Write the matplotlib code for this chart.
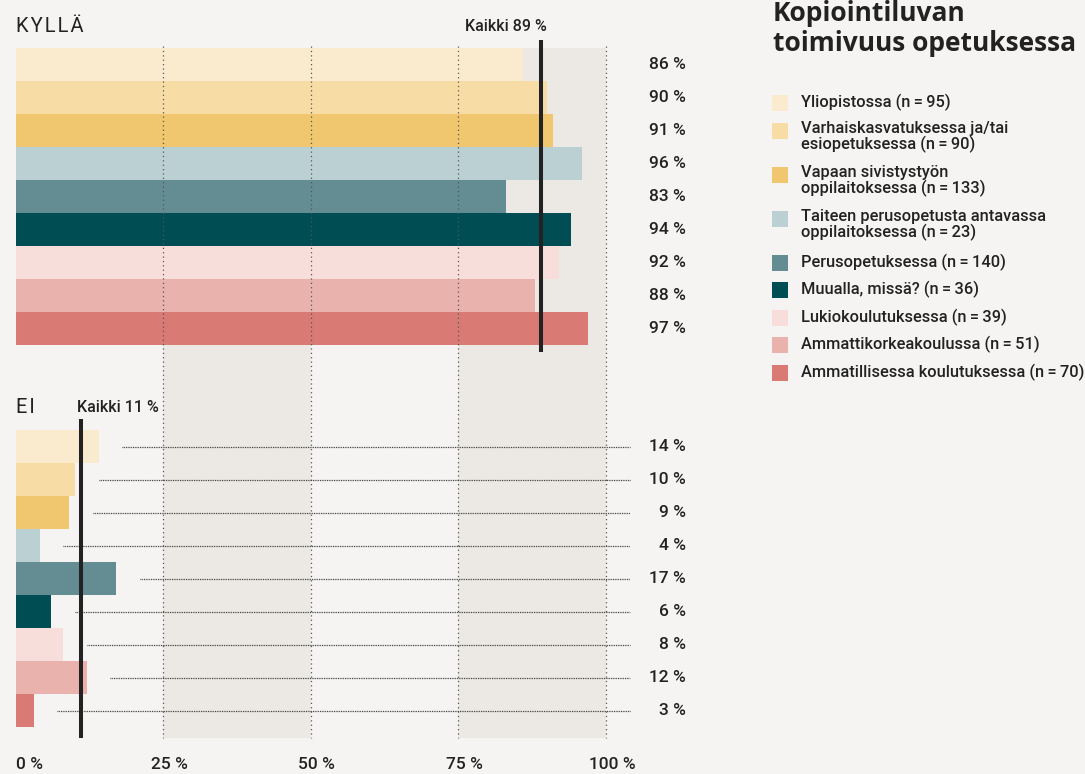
import matplotlib
matplotlib.use("Agg")
import matplotlib.pyplot as plt
from matplotlib.patches import Rectangle

# Data
categories = [
    "Yliopistossa",
    "Varhaiskasvatuksessa ja/tai\nesiopetuksessa",
    "Vapaan sivistystyön\noppilaitoksessa",
    "Taiteen perusopetusta antavassa\noppilaitoksessa",
    "Perusopetuksessa",
    "Muualla, missä?",
    "Lukiokoulutuksessa",
    "Ammattikorkeakoulussa",
    "Ammatillisessa koulutuksessa",
]
sample_sizes = [95, 90, 133, 23, 140, 36, 39, 51, 70]
yes_values = [86, 90, 91, 96, 83, 94, 92, 88, 97]
no_values = [14, 10, 9, 4, 17, 6, 8, 12, 3]
yes_all = 89
no_all = 11
tick_values = [0, 25, 50, 75, 100]

colors = ['#FAEBCF', '#F7DCA6', '#F0C66E', '#BBD0D3', '#638D93',
          '#004E54', '#F8DEDB', '#E9B2AD', '#D97B74']

BG = '#F5F4F2'
BAND = '#ECE9E4'
INK = '#222222'
FONT = ['Roboto', 'DejaVu Sans']
WEIGHT = 'medium'

W, H = 1085, 774
fig = plt.figure(figsize=(W / 100, H / 100), dpi=100, facecolor=BG)

# Chart area: 0 % at x=16 px, 100 % at x=606 px, bars 33 px tall from y=48 px
ax = fig.add_axes([16 / W, (H - 738) / H, 590 / W, 690 / H])
ax.set_facecolor(BG)


def ypx(p):
    """Convert a pixel row of the image into bar units."""
    return (p - 48) / 33 - 0.5


ax.set_xlim(0, 100)
ax.set_ylim(ypx(738), ypx(48))
ax.axis('off')

n = len(categories)
yes_pos = list(range(n))
no_start = ypx(430) + 0.5
no_pos = [no_start + i for i in range(n)]

# Shaded bands
ax.axvspan(25, 50, color=BAND, zorder=0, lw=0)
ax.axvspan(75, 100, color=BAND, zorder=0, lw=0)

# Bars
ax.barh(yes_pos, yes_values, height=1.0, color=colors, zorder=2, lw=0)
ax.barh(no_pos, no_values, height=1.0, color=colors, zorder=2, lw=0)

# Vertical dotted grid
ax.vlines(tick_values[1:], ypx(46), ypx(738), colors='#555555',
          linestyles=(0, (1, 2.5)), lw=0.9, zorder=3, clip_on=False)

# Dotted leader lines in the EI section
for pos, v in zip(no_pos, no_values):
    ax.hlines(pos, v + 4, 104, colors='#333333', linestyles=(0, (0.7, 0.7)),
              lw=0.9, zorder=3, clip_on=False)

# "Kaikki" reference lines
ax.vlines(yes_all, ypx(40), ypx(352), colors=INK, lw=2.9, zorder=5, clip_on=False)
ax.vlines(no_all, ypx(419), ypx(738), colors=INK, lw=2.9, zorder=5, clip_on=False)
ax.text(yes_all + 1, ypx(26), f"Kaikki {yes_all} %", ha='right', va='center',
        fontsize=11.5, family=FONT, fontweight=WEIGHT, color=INK, clip_on=False)
ax.text(no_all - 0.6, ypx(407), f"Kaikki {no_all} %", ha='left', va='center',
        fontsize=11.5, family=FONT, fontweight=WEIGHT, color=INK, clip_on=False)

# Section titles
ax.text(0, ypx(26), "\u200a".join("KYLLÄ"), ha='left', va='center',
        fontsize=14.5, family=FONT, color=INK, clip_on=False)
ax.text(0, ypx(407), "\u200a".join("EI"), ha='left', va='center',
        fontsize=14.5, family=FONT, color=INK, clip_on=False)

# Value labels
for pos, v in zip(yes_pos, yes_values):
    ax.text(113.6, pos, f"{v} %", ha='right', va='center', fontsize=12.5,
            family=FONT, fontweight=WEIGHT, color=INK, clip_on=False)
for pos, v in zip(no_pos, no_values):
    ax.text(113.6, pos, f"{v} %", ha='right', va='center', fontsize=12.5,
            family=FONT, fontweight=WEIGHT, color=INK, clip_on=False)

# X tick labels
for t in tick_values:
    if t == 0:
        ax.text(0, ypx(765), f"{t} %", ha='left', va='center', fontsize=12.5,
                family=FONT, fontweight=WEIGHT, color=INK, clip_on=False)
    else:
        ax.text(t + 1, ypx(765), f"{t} %", ha='center', va='center', fontsize=12.5,
                family=FONT, fontweight=WEIGHT, color=INK, clip_on=False)

# Legend title
TITLE_FONT = ['Open Sans', 'DejaVu Sans']
fig.text(773 / W, 1 - 21 / H, "Kopiointiluvan", ha='left', va='baseline',
         fontsize=19, family=TITLE_FONT, fontweight='bold', color=INK)
fig.text(773 / W, 1 - 51 / H, "toimivuus opetuksessa", ha='left', va='baseline',
         fontsize=19, family=TITLE_FONT, fontweight='bold', color=INK)

# Legend entries
center = 103
for name, size, col in zip(categories, sample_sizes, colors):
    fig.add_artist(Rectangle((772 / W, 1 - (center + 8) / H), 16 / W, 16 / H,
                             transform=fig.transFigure, color=col, lw=0))
    label = f"{name} (n\u2009=\u2009{size})"
    fig.text(801 / W, 1 - (center - 9) / H, label, ha='left', va='top',
             fontsize=11.8, family=FONT, fontweight=WEIGHT, color=INK,
             linespacing=0.98)
    center += 27.5 + 16.5 * name.count("\n")

fig.savefig("out.png", dpi=100, facecolor=BG)
